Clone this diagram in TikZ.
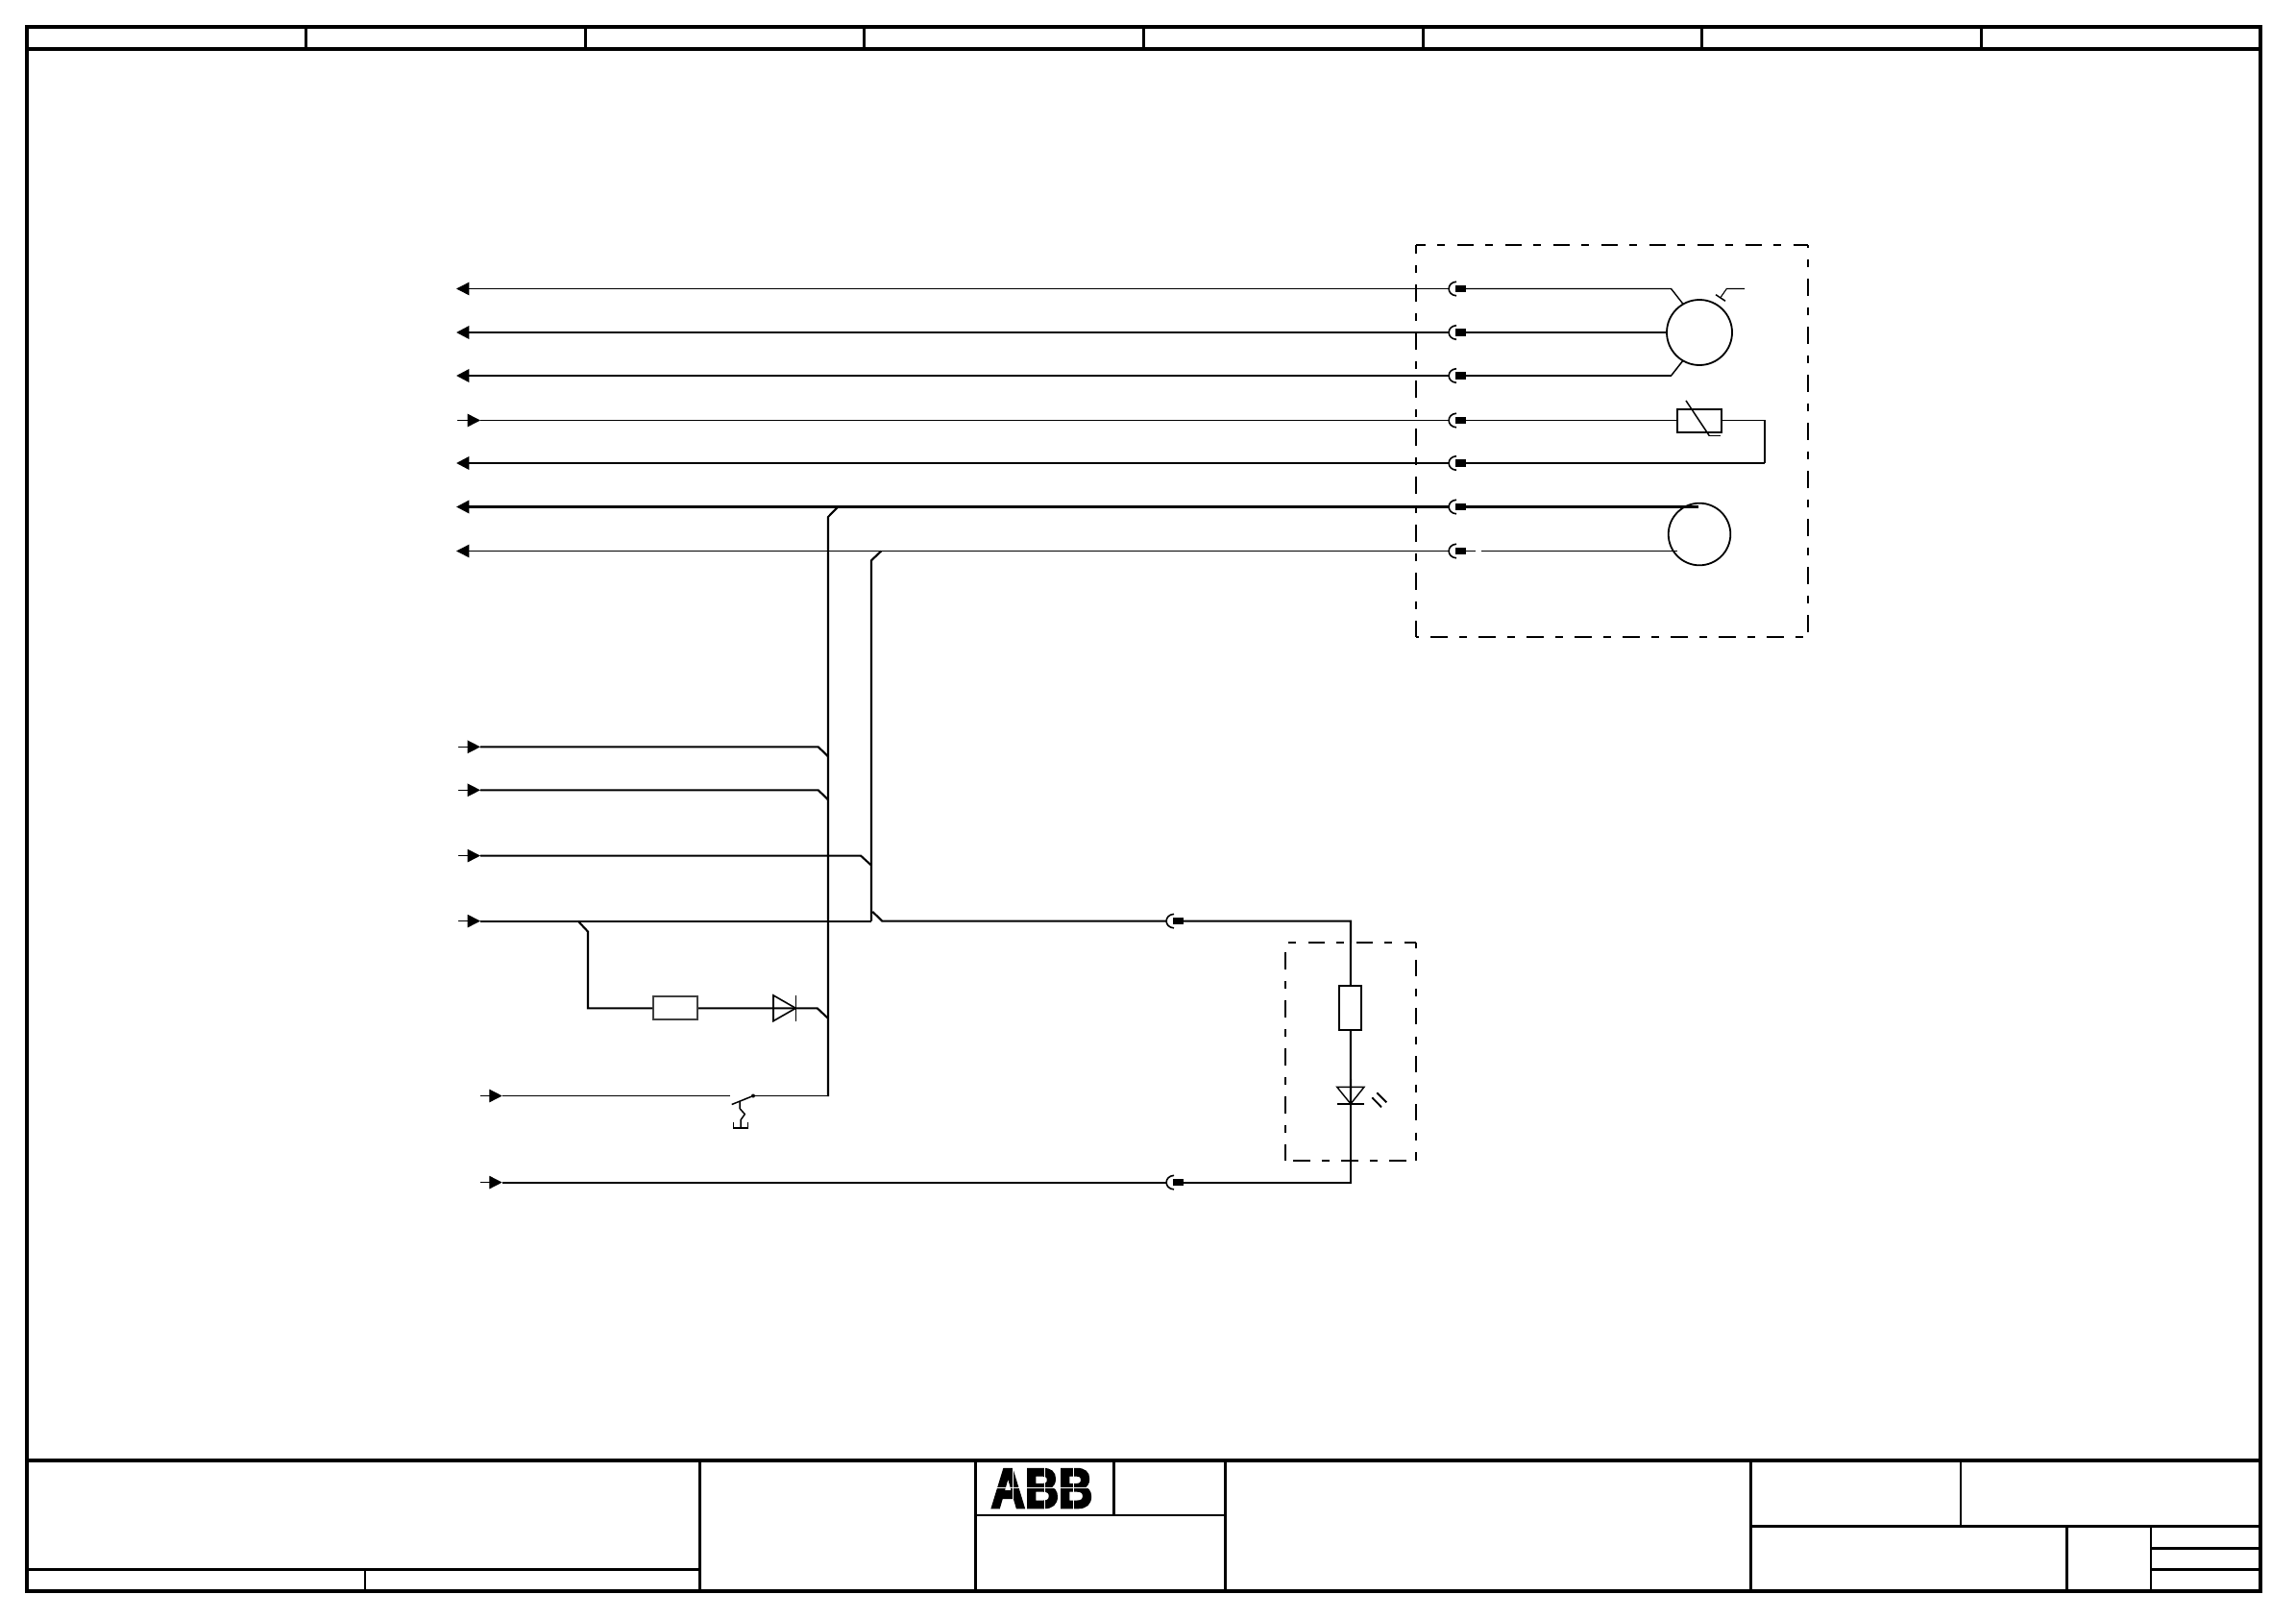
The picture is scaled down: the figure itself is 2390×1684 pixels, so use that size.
\documentclass[tikz,border=0pt]{standalone}
\usepackage{fontspec}
\usetikzlibrary{arrows.meta}
\newfontfamily\abbfont[BoldFeatures={FakeBold=4.5}]{Liberation Sans}
\tikzset{
  wthin/.style={line width=1.1pt,line cap=butt},
  wthick/.style={line width=2.2pt},
  wbus/.style={line width=2.1pt,line join=miter},
  frameA/.style={line width=4pt},
  frameB/.style={line width=3pt},
  frameC/.style={line width=2.4pt},
  tipL/.style={-{Triangle[length=13.3pt,width=13.4pt]}},
  boxdash/.style={dash pattern=on 17.5pt off 12.2pt on 8pt off 12.3pt},
  part/.style={draw,rectangle,fill=white,inner sep=0pt,line width=2pt},
  motor/.style={draw,circle,inner sep=0pt,line width=1.8pt,fill=white},
  plug/.pic={
    \draw[line width=1.6pt] (8,-7.3) .. controls (-2.5,-6.5) and (-2.5,6.5) .. (8,7.3);
    \fill (7,-3.7) rectangle (18,3.7);
  }
}
\begin{document}
\begin{tikzpicture}[x=1pt,y=-1pt,line join=miter]
\useasboundingbox[fill=white] (0,0) rectangle (2390,1684);
% ---------- drawing frame
\draw[frameA] (28,28) rectangle (2353,1656);
\draw[frameA] (28,51) -- (2353,51);
\foreach \k in {1,...,7}{\draw[frameB] ({28+290.6*\k},28) -- ({28+290.6*\k},51);}
% ---------- title block
\draw[frameA] (28,1520) -- (2353,1520);
\draw[frameB] (728.5,1520) -- (728.5,1656);
\draw[frameB] (1015,1520) -- (1015,1656);
\draw[frameB] (1275,1520) -- (1275,1656);
\draw[frameB] (1822,1520) -- (1822,1656);
\draw[frameB] (28,1633) -- (728.5,1633);
\draw[frameC] (380,1633) -- (380,1656);
\draw[frameB] (1159,1520) -- (1159,1577);
\draw[frameC] (1015,1577) -- (1275,1577);
\draw[frameC] (2041,1520) -- (2041,1588);
\draw[frameB] (1822,1588) -- (2353,1588);
\draw[frameB] (2151,1588) -- (2151,1656);
\draw[frameC] (2239,1588) -- (2239,1656);
\draw[frameB] (2239,1611) -- (2353,1611);
\draw[frameB] (2239,1633) -- (2353,1633);
% ---------- logo
\node[anchor=base,inner sep=0pt,xscale=.84,font=\abbfont\bfseries\fontsize{58}{58}\selectfont] (logo) at (1084.5,1569) {ABB};
\draw[white,line width=.8pt] (1030,1548) -- (1140,1548);
\draw[white,line width=.8pt] (1054,1525) -- (1054,1571) (1087,1525) -- (1087,1571) (1117,1525) -- (1117,1571);
% ---------- dashed enclosures
\draw[boxdash,line width=2.2pt,dash phase=7.3pt] (1474,255) -- (1882,255);
\draw[boxdash,line width=2.2pt,dash phase=15pt] (1882,255) -- (1882,663);
\draw[boxdash,line width=2.2pt,dash phase=34.7pt] (1474,663) -- (1882,663);
\draw[boxdash,line width=2.2pt,dash phase=9pt] (1474,255) -- (1474,663);
\begin{scope}[yshift=-0.6pt]
\draw[boxdash,line width=2.1pt,dash phase=26pt] (1337.7,980.7) -- (1474,980.7);
\draw[boxdash,line width=2.1pt,dash phase=32.4pt] (1474,980.7) -- (1474,1207.3);
\draw[boxdash,line width=1.2pt,dash phase=41.7pt] (1337.7,1207.3) -- (1474,1207.3);
\draw[boxdash,line width=2.2pt,dash phase=40pt] (1337.7,980.7) -- (1337.7,1207.3);
\end{scope}
% ---------- arrow ends
\coordinate (a1) at (475,300.5);
\coordinate (a2) at (475,346);
\coordinate (a3) at (475,391);
\coordinate (a4s) at (476,437.5);
\coordinate (a4) at (500,437.5);
\coordinate (a5) at (475,482);
\coordinate (a6) at (475,527.5);
\coordinate (a7) at (475,573.5);
\coordinate (i1s) at (477,777.3);
\coordinate (i1) at (500,777.3);
\coordinate (i2s) at (477,822.3);
\coordinate (i2) at (500,822.3);
\coordinate (i3s) at (477,890.6);
\coordinate (i3) at (500,890.6);
\coordinate (i4s) at (477,958.6);
\coordinate (i4) at (500,958.6);
\coordinate (i5s) at (500,1140.5);
\coordinate (i5) at (522.7,1140.5);
\coordinate (i6s) at (500,1230.6);
\coordinate (i6) at (522.7,1230.6);
% ---------- plugs
\foreach \n/\y in {p1/300.5,p2/346,p3/391,p4/437.5,p5/482,p6/527.5,p7/573.5}{
  \coordinate (\n) at (1508,\y);
  \coordinate (\n r) at (1526,\y);
}
\coordinate (q1) at (1214,958.6); \coordinate (q1r) at (1232,958.6);
\coordinate (q2) at (1214,1230.6); \coordinate (q2r) at (1232,1230.6);
% ---------- components
\node[motor,minimum size=68pt] (M1) at (1769,346) {};
\node[motor,minimum size=64.6pt] (M2) at (1769,556) {};
\node[part,minimum width=46pt,minimum height=24pt] (RT) at (1768.7,437.5) {};
\node[part,draw=black!75,minimum width=46pt,minimum height=24pt] (R1) at (703,1049.3) {};
\node[part,minimum width=23pt,minimum height=45.6pt] (R2) at (1405.8,1049.1) {};
% ---------- upper wires
\draw[wthin,tipL] (p1) -- (a1);
\draw[wthick,tipL] (p2) -- (a2);
\draw[wthick,tipL] (p3) -- (a3);
\draw[wthin,-{Triangle[length=13.3pt,width=13.4pt]}] (a4s) -- (a4);
\draw[wthin] (a4) -- (p4);
\draw[wthick,tipL] (p5) -- (a5);
\draw[wthick,tipL] (p6) -- (a6);
\draw[wthin,tipL] (p7) -- (a7);
\foreach \n in {p1,p2,p3,p4,p5,p6,p7}{\pic at (\n) {plug};}
% motor 1
\coordinate (m1a) at (1739.5,300.5); \coordinate (m1b) at (1751.7,316);
\coordinate (m1c) at (1739.5,391); \coordinate (m1d) at (1751.7,375.5);
\draw[wthin,line width=1.4pt] (p1r) -- (m1a) -- (m1b);
\draw[wthick] (p2r) -- (M1.west);
\draw[wthick] (p3r) -- (m1c);
\draw[line width=1.5pt] (m1c) -- (m1d);
\coordinate (m1e) at (1816,300.5); \coordinate (m1f) at (1797.3,300.5); \coordinate (m1g) at (1790.7,310);
\coordinate (m1h) at (1786,306.7); \coordinate (m1i) at (1796,313.3);
\draw[wthin] (m1e) -- (m1f) -- (m1g);
\draw[line width=1.5pt] (m1h) -- (m1i);
% thermistor
\coordinate (ta) at (1755,417); \coordinate (tb) at (1779.3,453.6); \coordinate (tc) at (1791,453.6);
\draw[wthin] (p4r) -- (RT.west);
\draw[wthin] (RT.east) -- (1836.7,437.5);
\draw[line width=1.5pt] (ta) -- (tb);
\draw[wthin] (tb) -- (tc);
\coordinate (tr) at (1836.7,482);
\draw[wthick,line join=miter] (p5r) -- (tr);
\draw[wbus] (tr) -- (1836.7,437);
% motor 2
\draw[wthick] (p6r) -- (1768.3,527.5);
\draw[wthin] (p7r) -- (1536,573.5);
\draw[wthin] (1542,573.5) -- (1745.7,573.5);
% ---------- bus
\coordinate (b1a) at (872.3,527.5); \coordinate (b1b) at (862,538); \coordinate (b1c) at (862,1141);
\coordinate (b2a) at (917.3,573.5); \coordinate (b2b) at (907,583.3); \coordinate (b2c) at (907,958.6);
\draw[wbus] (b1a) -- (b1b) -- (b1c);
\draw[wbus] (b2a) -- (b2b) -- (b2c);
% ---------- input wires
\foreach \a/\b in {i1s/i1,i2s/i2,i3s/i3,i4s/i4}{\draw[wthin,-{Triangle[length=13.3pt,width=13.4pt]}] (\a) -- (\b);}
\draw[wbus] (i1) -- (851.7,777.3) -- (862,787.3);
\draw[wbus] (i2) -- (851.7,822.3) -- (862,832.3);
\draw[wbus] (i3) -- (896,890.6) -- (907,900.6);
\draw[wbus] (i4) -- (b2c);
\draw[wbus] (908.3,948.9) -- (918.3,958.6) -- (q1);
\draw[wbus] (601.7,958.6) -- (612,969.6) -- (612,1049.3) -- (R1.west);
% diode
\coordinate (da) at (805,1035.9); \coordinate (db) at (805,1062.6); \coordinate (dt) at (828.3,1049.3);
\draw[wbus] (R1.east) -- (850.7,1049.3) -- (862,1059.9);
\draw[line width=1.6pt,line join=miter] (da) -- (dt) -- (db) -- cycle;
\draw[line width=1.6pt] (828.3,1035.6) -- (828.3,1062.6);
% switch
\draw[wthin,-{Triangle[length=13.3pt,width=13.4pt]}] (i5s) -- (i5);
\draw[wthin] (i5) -- (760,1140.5);
\coordinate (sw) at (784,1140.5);
\draw[wthin] (sw) -- (862,1140.5);
\fill (sw) circle (2pt);
\draw[line width=1.5pt] (sw) -- (761.7,1149.5);
\draw[line width=1.5pt,line join=round] (770,1146) -- (770,1153.6) -- (775.3,1159.6) -- (771,1165.6) -- (771,1173.9);
\draw[line width=1.5pt] (763.3,1167.9) -- (763.3,1173.9) -- (778.7,1173.9) -- (778.7,1167.9);
% lower wires
\draw[wthin,-{Triangle[length=13.3pt,width=13.4pt]}] (i6s) -- (i6);
\draw[wbus] (i6) -- (q2);
\pic at (q1) {plug};
\pic at (q2) {plug};
\coordinate (c1) at (1406,958.6); \coordinate (c2) at (1406,1230.6);
\draw[wbus] (q1r) -- (c1) -- (R2.north);
\draw[wbus] (R2.south) -- (1406,1148.9);
\draw[wbus] (1406,1148.9) -- (c2) -- (q2r);
% LED
\coordinate (la) at (1391.7,1131.3); \coordinate (lb) at (1420,1131.3); \coordinate (lt) at (1406,1148.9);
\draw[line width=1.4pt] (la) -- (lb) -- (lt) -- cycle;
\draw[line width=1.2pt] (1391.7,1148.9) -- (1420,1148.9);
\draw[line width=1.8pt] (1428.3,1142.3) -- (1438,1152.3);
\draw[line width=1.8pt] (1433.3,1137.3) -- (1443.3,1147.3);
\end{tikzpicture}
\end{document}
